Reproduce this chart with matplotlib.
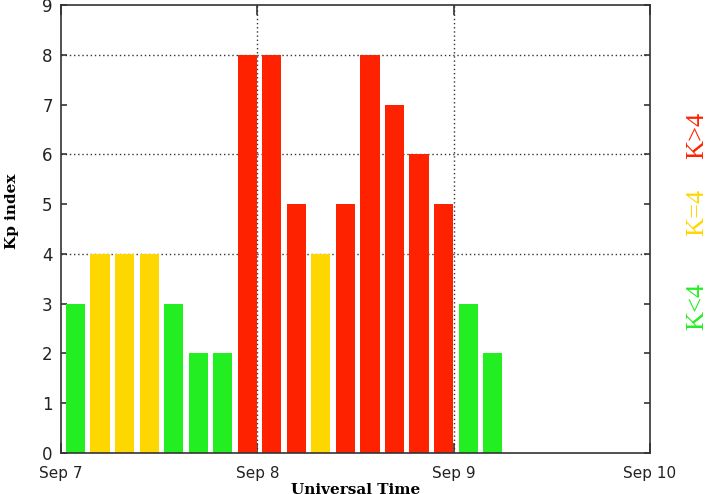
import numpy as np
import pandas as pd
import matplotlib
matplotlib.use('Agg')
import matplotlib.pyplot as plt
import matplotlib.dates as mdates

# 3-hour Kp values, Sep 7 00 UT onward
times = pd.date_range('2017-09-07 00:00', periods=18, freq='3h')
kp = [3, 4, 4, 4, 3, 2, 2, 8,
      8, 5, 4, 5, 8, 7, 6, 5,
      3, 2]
day_ticks = pd.date_range('2017-09-07', '2017-09-10', freq='D')
day_labels = ['Sep 7', 'Sep 8', 'Sep 9', 'Sep 10']
green = '#22ee22'
yellow = '#ffd700'
red = '#ff2200'


def kp_color(k):
    if k < 4:
        return green
    if k == 4:
        return yellow
    return red


fig = plt.figure(figsize=(7.28, 4.94), dpi=100)
ax = fig.add_axes([61/728, 1-453/494, 589/728, 448/494])

slot = pd.Timedelta(hours=3)
left = times + 0.2*slot
ax.bar(left, kp, width=0.78*slot/pd.Timedelta(days=1), align='edge',
       color=[kp_color(k) for k in kp], zorder=2)

ax.set_xlim(day_ticks[0], day_ticks[-1])
ax.set_ylim(0, 9)
ax.set_xticks(day_ticks)
ax.set_xticklabels(day_labels, fontsize=11, family='DejaVu Sans', color='#222222')
ax.set_yticks(range(10))
ax.set_yticklabels([str(i) for i in range(10)], fontsize=12, family='DejaVu Sans', color='#222222')
ax.tick_params(axis='x', direction='in', top=True, length=7, width=1.2, pad=9, color='#333333')
ax.tick_params(axis='y', direction='in', right=True, length=4.5, width=1.2, pad=6, color='#333333')

# dotted guide lines
for y in [4, 6, 8]:
    ax.axhline(y, color='#333333', ls=(0, (1, 2)), lw=1, zorder=1)
for d in day_ticks[1:-1]:
    ax.axvline(d, color='#333333', ls=(0, (1, 2)), lw=1, zorder=1)

for s in ax.spines.values():
    s.set_linewidth(1.2)
    s.set_color('#333333')

ax.set_xlabel('Universal Time', fontsize=11, fontweight='bold', family='DejaVu Serif', labelpad=2)
ax.set_ylabel('Kp index', fontsize=11, fontweight='bold', family='DejaVu Serif', labelpad=10)
ax.yaxis.set_label_coords(-61/589+19/589, 0.54)

fig.text(697/728, 1-135/494, 'K>4', color=red, rotation=90, ha='center', va='center',
         fontsize=19, family='Liberation Serif')
fig.text(697/728, 1-212/494, 'K=4', color=yellow, rotation=90, ha='center', va='center',
         fontsize=19, family='Liberation Serif')
fig.text(697/728, 1-306/494, 'K<4', color=green, rotation=90, ha='center', va='center',
         fontsize=19, family='Liberation Serif')

fig.savefig('out.png', dpi=100)
